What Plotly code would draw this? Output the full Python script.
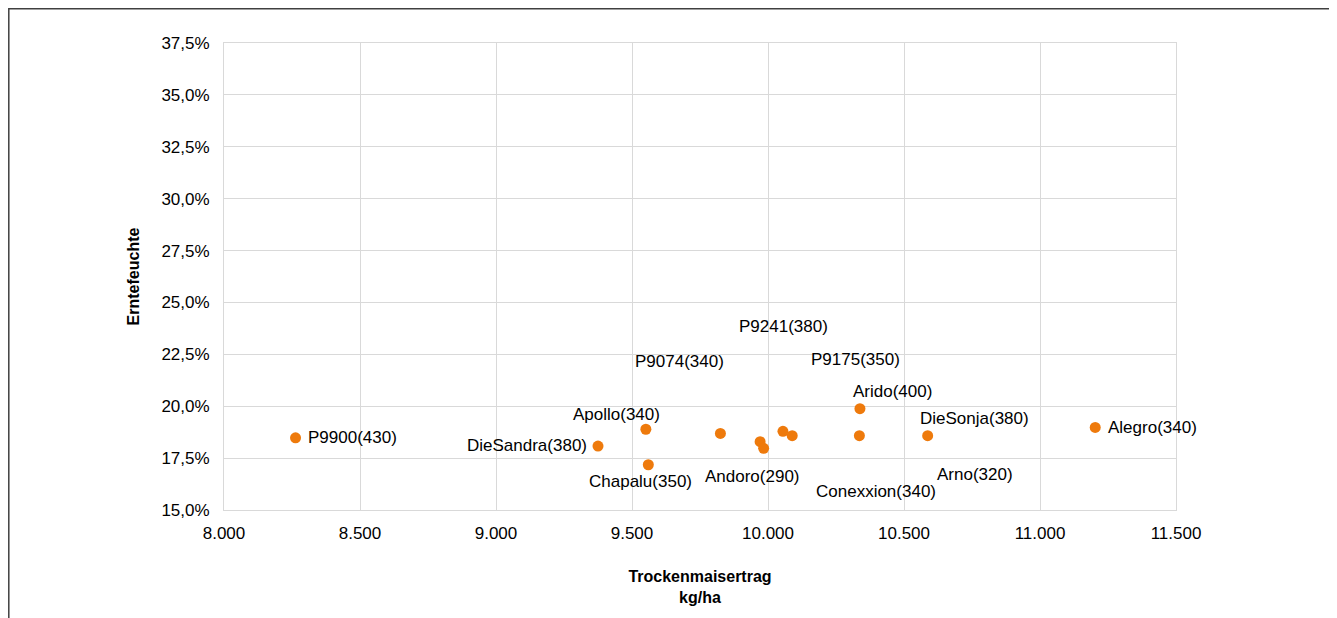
import plotly.graph_objects as go

# Data
names = ["P9900(430)", "DieSandra(380)", "Apollo(340)", "Chapalu(350)", "P9074(340)",
         "Andoro(290)", "Arno(320)", "P9241(380)", "P9175(350)", "Arido(400)",
         "Conexxion(340)", "DieSonja(380)", "Alegro(340)"]
ertrag = [8263, 9375, 9551, 9560, 9825, 9971, 9984, 10055, 10089, 10338, 10336, 10587, 11203]
feuchte = [18.48, 18.08, 18.89, 17.18, 18.69, 18.29, 17.97, 18.79, 18.58, 19.88, 18.58, 18.58, 18.98]

x_ticks = [8000, 8500, 9000, 9500, 10000, 10500, 11000, 11500]
y_ticks = [15.0, 17.5, 20.0, 22.5, 25.0, 27.5, 30.0, 32.5, 35.0, 37.5]
y_ticktext = ["15,0%", "17,5%", "20,0%", "22,5%", "25,0%", "27,5%", "30,0%", "32,5%", "35,0%", "37,5%"]

# label offsets in pixels (style, moved labels as in the original)
label_dx = [57, -71, -29, -8, -41, -8, 211, 1, 63, 33, 17, 47, 57]
label_dy = [0, -1, -15, 17, -72, 35, 26, -105, -76, -17, 56, -17, 0]

FONT = "Liberation Sans, Arial, sans-serif"
ORANGE = "#EE7A0C"
GRID = "#D9D9D9"

fig = go.Figure()
fig.add_trace(go.Scatter(
    x=ertrag, y=feuchte, mode="markers",
    marker=dict(color=ORANGE, size=11, line=dict(width=0)),
    hoverinfo="text", text=names, showlegend=False,
))

for n, x, y, dx, dy in zip(names, ertrag, feuchte, label_dx, label_dy):
    fig.add_annotation(x=x, y=y, xref="x", yref="y", text=n, showarrow=False,
                       xshift=dx, yshift=-dy, xanchor="center", yanchor="middle",
                       font=dict(family=FONT, size=17, color="#000000"))

FW, FH = 1329, 610          # page has an 8px body margin
L, R, T, B = 216, 161, 35, 108
W, H = FW - L - R, FH - T - B
# outer chart frame
fig.add_shape(type="rect", xref="paper", yref="paper",
              x0=(0.8 - L) / W, x1=(1323.5 - L) / W,
              y0=(FH - B - 640) / H, y1=(FH - B - 0.8) / H,
              line=dict(color="#404040", width=1.5), fillcolor="rgba(0,0,0,0)", layer="below")

fig.update_layout(
    width=FW, height=FH,
    margin=dict(l=L, r=R, t=T, b=B, autoexpand=False),
    paper_bgcolor="white", plot_bgcolor="white",
    font=dict(family=FONT, size=17, color="#000000"),
    xaxis=dict(range=[8000, 11500], tickvals=x_ticks,
               ticktext=[f"{v:,}".replace(",", ".") for v in x_ticks],
               showgrid=True, gridcolor=GRID, gridwidth=1,
               showline=True, linecolor=GRID, mirror=True, zeroline=False,
               ticks="", ticklabelstandoff=8,
               title=dict(text="<b>Trockenmaisertrag<br>kg/ha</b>",
                          font=dict(family=FONT, size=16), standoff=28)),
    yaxis=dict(range=[15, 37.5], tickvals=y_ticks, ticktext=y_ticktext,
               showgrid=True, gridcolor=GRID, gridwidth=1,
               showline=True, linecolor=GRID, mirror=True, zeroline=False,
               ticks="", ticklabelstandoff=10,
               title=dict(text="<b>Erntefeuchte</b>",
                          font=dict(family=FONT, size=16), standoff=17)),
)

fig.write_html("out.html")
